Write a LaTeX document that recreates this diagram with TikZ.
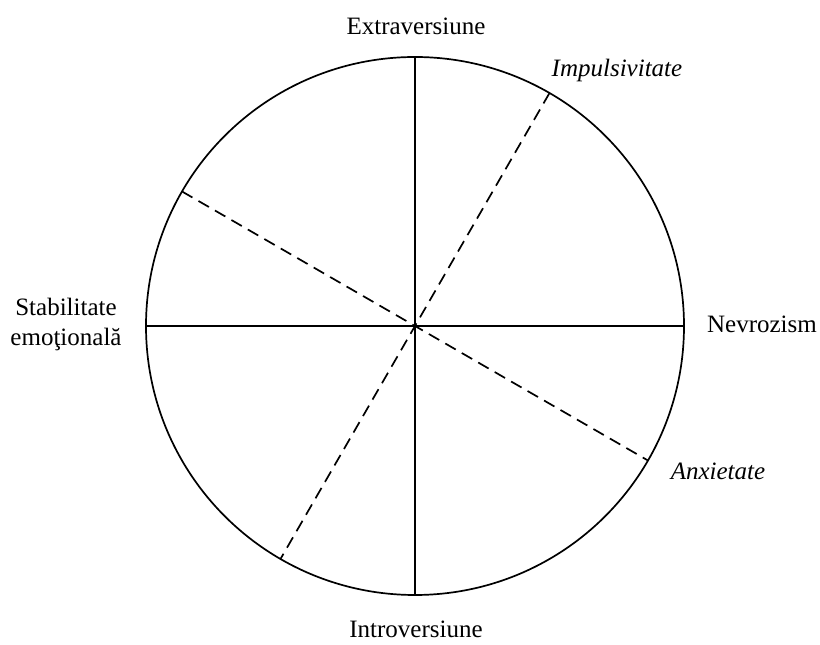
\documentclass[tikz,border=0pt]{standalone}
\usepackage{fontspec}
\setmainfont{Liberation Serif}
\usetikzlibrary{calc}
\begin{document}
\begin{tikzpicture}[x=1pt,y=1pt,
  axis/.style={line width=1.7pt,black},
  dashaxis/.style={line width=1.7pt,black,dash pattern=on 12pt off 7pt},
  lab/.style={inner sep=0pt,anchor=base,font=\fontsize{25}{30}\selectfont},
  ilab/.style={lab,font=\fontsize{25}{30}\selectfont\itshape}]
\useasboundingbox (0,0) rectangle (820,645);
\coordinate (O) at (415,319);
\coordinate (N) at ($(O)+(90:269)$);
\coordinate (S) at ($(O)+(270:269)$);
\coordinate (E) at ($(O)+(0:269)$);
\coordinate (W) at ($(O)+(180:269)$);
\coordinate (I1) at ($(O)+(60:269)$);
\coordinate (I2) at ($(O)+(240:269)$);
\coordinate (A1) at ($(O)+(-30:269)$);
\coordinate (A2) at ($(O)+(150:269)$);
\draw[axis] (O) circle (269);
\draw[axis] (N) -- (S);
\draw[axis] (W) -- (E);
\draw[dashaxis] (I1) -- (I2);
\draw[dashaxis] (A2) -- (A1);
\node[lab] (extra) at (416,610) {Extraversiune};
\node[lab] (intro) at (416,7) {Introversiune};
\node[lab] (nevro) at (762,312) {Nevrozism};
\node[lab,align=center] (stab) at (66,299) {Stabilitate\\emoţională};
\node[ilab] (impuls) at (617,568) {Impulsivitate};
\node[ilab] (anx) at (718,165) {Anxietate};
\end{tikzpicture}
\end{document}
